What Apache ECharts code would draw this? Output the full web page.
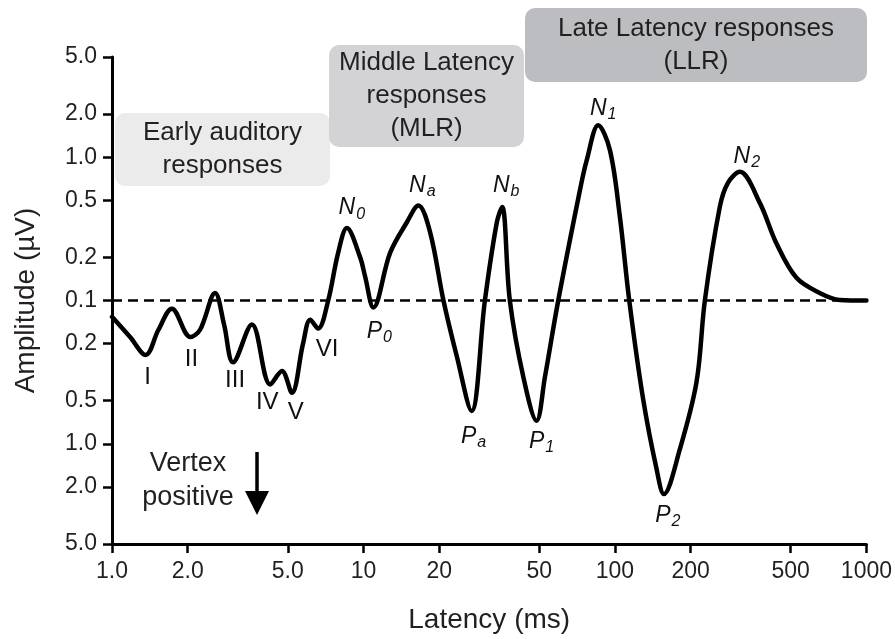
<!DOCTYPE html>
<html><head><meta charset="utf-8">
<script src="https://cdn.jsdelivr.net/npm/echarts@6/dist/echarts.min.js"></script>
<style>html,body{margin:0;padding:0;background:#fff}#c{width:895px;height:639px}</style>
</head><body><div id="c"></div>
<script>
// ---- data ----
// latency in ms; amplitude in µV, positive = plotted upward (vertex negative), negative = vertex positive
const latencyMs = [1.0, 1.18, 1.36, 1.53, 1.73, 2.05, 2.24, 2.57, 2.79, 3.03, 3.6, 4.26, 4.74, 5.19, 5.75, 6.14, 6.6, 7.24, 7.93, 8.59, 9.7, 10.15, 10.95, 12.76, 14.86, 16.53, 18.4, 20.8, 23.5, 26.9, 30.4, 33.9, 35.6, 38.2, 43.2, 48.8, 52.7, 59.5, 72.6, 77.2, 85.8, 95.5, 104.6, 114, 129.5, 146.4, 156.5, 181.2, 211.1, 227.8, 261.2, 281.1, 313.8, 376.7, 439, 527, 652, 783, 1000];
const amplitudeUV = [-0.13, -0.18, -0.24, -0.16, -0.114, -0.18, -0.16, 0.113, -0.147, -0.27, -0.147, -0.385, -0.31, -0.44, -0.2, -0.136, -0.157, 0.1, 0.215, 0.32, 0.2, 0.147, -0.112, 0.215, 0.35, 0.46, 0.3, 0.1, -0.245, -0.59, 0.1, 0.35, 0.45, 0.1, -0.34, -0.69, -0.34, 0.1, 0.59, 0.95, 1.67, 1.12, 0.385, 0.1, -0.49, -1.5, -2.24, -1.09, -0.37, 0.1, 0.45, 0.66, 0.79, 0.48, 0.25, 0.144, 0.113, 0.101, 0.1];

const peakNames = ['N0', 'Na', 'Nb', 'N1', 'N2', 'P0', 'Pa', 'P1', 'P2'];
const peakLatency = [8.59, 16.53, 35.6, 85.8, 313.8, 10.95, 26.9, 48.8, 156.5];
const peakAmplitude = [0.32, 0.46, 0.45, 1.67, 0.79, -0.112, -0.59, -0.69, -2.24];

const waveNames = ['I', 'II', 'III', 'IV', 'V', 'VI'];
const waveLatency = [1.36, 2.05, 3.03, 4.26, 5.19, 6.6];
const waveAmplitude = [-0.24, -0.18, -0.27, -0.385, -0.44, -0.157];

const xTickValues = [1, 2, 5, 10, 20, 50, 100, 200, 500, 1000];
const xTickLabels = ['1.0', '2.0', '5.0', '10', '20', '50', '100', '200', '500', '1000'];
const yTickAmps = [5, 2, 1, 0.5, 0.2, 0.1, -0.2, -0.5, -1, -2, -5];
const yTickLabels = ['5.0', '2.0', '1.0', '0.5', '0.2', '0.1', '0.2', '0.5', '1.0', '2.0', '5.0'];
const baselineUV = 0.1;
const yLimitUV = 5;

// ---- scale transforms ----
const tx = ms => Math.log10(ms);
const ty = a => Math.sign(a) * Math.log10(Math.abs(a) / baselineUV);

const xTickVals = xTickValues.map(tx);
const yTickVals = yTickAmps.map(ty);
function nearest(vals, v) {
  let bi = 0, bd = Infinity;
  vals.forEach((t, i) => { const d = Math.abs(t - v); if (d < bd) { bd = d; bi = i; } });
  return bi;
}

const FONT = '"Liberation Sans", Arial, Helvetica, sans-serif';
const TXT = '#231f20';

// label placement (pixels, relative to the peak)
const peakOffsets = { N0: [5, -20], Na: [4, -20], Nb: [4, -21], N1: [5, -17], N2: [7, -15], P0: [6, 24], Pa: [2, 26], P1: [5, 21], P2: [4, 22] };
const waveOffsets = { I: [2, 22], II: [1, 22], III: [2, 18], IV: [-3, 18], V: [4, 20], VI: [9, 21] };

const curve = latencyMs.map((ms, i) => [tx(ms), ty(amplitudeUV[i])]);
const peakData = peakNames.map((n, i) => ({ name: n, value: [tx(peakLatency[i]), ty(peakAmplitude[i])], label: { offset: peakOffsets[n] } }));
const waveData = waveNames.map((n, i) => ({ name: n, value: [tx(waveLatency[i]), ty(waveAmplitude[i])], label: { offset: waveOffsets[n] } }));

const chart = echarts.init(document.getElementById('c'), null, { renderer: 'canvas' });

function box(x, y, w, h, fill, text) {
  return [
    { type: 'rect', z: 1, shape: { x: x, y: y, width: w, height: h, r: 10 }, style: { fill: fill } },
    { type: 'text', z: 2, x: x + w / 2, y: y + h / 2, style: { text: text, fontSize: 26, fontFamily: FONT, fill: TXT, align: 'center', verticalAlign: 'middle', lineHeight: 33 } }
  ];
}

const option = {
  animation: false,
  backgroundColor: '#fff',
  grid: { left: 112, right: 28, top: 57, bottom: 94 },
  xAxis: {
    type: 'value', min: 0, max: 3,
    name: 'Latency (ms)', nameLocation: 'middle', nameGap: 62,
    nameTextStyle: { fontSize: 28, color: TXT, fontFamily: FONT },
    axisLine: { show: true, onZero: false, lineStyle: { color: '#000', width: 3 } },
    axisTick: { show: true, customValues: xTickVals, length: 9, lineStyle: { color: '#000', width: 2.5 } },
    axisLabel: { customValues: xTickVals, fontSize: 23, color: TXT, fontFamily: FONT, margin: 16,
      formatter: v => xTickLabels[nearest(xTickVals, v)] },
    splitLine: { show: false }
  },
  yAxis: {
    type: 'value', min: ty(-yLimitUV), max: ty(yLimitUV),
    name: 'Amplitude (µV)', nameLocation: 'middle', nameGap: 72,
    nameTextStyle: { fontSize: 28, color: TXT, fontFamily: FONT },
    axisLine: { show: true, onZero: false, lineStyle: { color: '#000', width: 3 } },
    axisTick: { show: true, customValues: yTickVals, length: 9, lineStyle: { color: '#000', width: 2.5 } },
    axisLabel: { customValues: yTickVals, fontSize: 23, color: TXT, fontFamily: FONT, margin: 15,
      formatter: v => yTickLabels[nearest(yTickVals, v)] },
    splitLine: { show: false }
  },
  series: [
    {
      type: 'line', data: curve, smooth: 0.35, showSymbol: false, symbol: 'none', z: 5,
      lineStyle: { color: '#000', width: 4.5, cap: 'round', join: 'round' },
      markLine: {
        silent: true, symbol: 'none', label: { show: false }, z: 3,
        lineStyle: { color: '#000', width: 2.5, type: [10, 6] },
        data: [{ yAxis: ty(baselineUV) }]
      }
    },
    {
      type: 'scatter', data: peakData, symbolSize: 1, itemStyle: { color: '#000', opacity: 1 }, z: 6,
      emphasis: { disabled: true },
      label: {
        show: true, position: 'inside', color: '#111', opacity: 1, textBorderWidth: 0,
        formatter: p => '{i|' + p.name[0] + '}{s|' + p.name.slice(1) + '}',
        rich: {
          i: { fontSize: 23, fontStyle: 'italic', fontFamily: FONT, color: '#111', textBorderWidth: 0, lineHeight: 24 },
          s: { fontSize: 16, fontStyle: 'italic', fontFamily: FONT, color: '#111', textBorderWidth: 0, lineHeight: 16, padding: [12, 0, 0, 1] }
        }
      }
    },
    {
      type: 'scatter', data: waveData, symbolSize: 1, itemStyle: { color: '#000', opacity: 1 }, z: 6,
      emphasis: { disabled: true },
      label: { show: true, position: 'inside', formatter: p => p.name, fontSize: 24, fontFamily: FONT, color: '#111', opacity: 1, textBorderWidth: 0 }
    }
  ],
  graphic: [].concat(
    box(115, 113, 215, 73, '#ebebeb', 'Early auditory\nresponses'),
    box(329, 45, 195, 102, '#d3d3d5', 'Middle Latency\nresponses\n(MLR)'),
    box(525, 8, 342, 74, '#bcbdc0', 'Late Latency responses\n(LLR)'),
    [
      { type: 'text', z: 2, x: 188, y: 481, style: { text: 'Vertex\npositive', fontSize: 27, fontFamily: FONT, fill: TXT, align: 'center', verticalAlign: 'middle', lineHeight: 34 } },
      { type: 'line', z: 2, shape: { x1: 257, y1: 452, x2: 257, y2: 496 }, style: { stroke: '#000', lineWidth: 3.5 } },
      { type: 'polygon', z: 2, shape: { points: [[245, 491], [269, 491], [257, 515]] }, style: { fill: '#000' } }
    ]
  )
};
chart.setOption(option);
</script>
</body></html>
